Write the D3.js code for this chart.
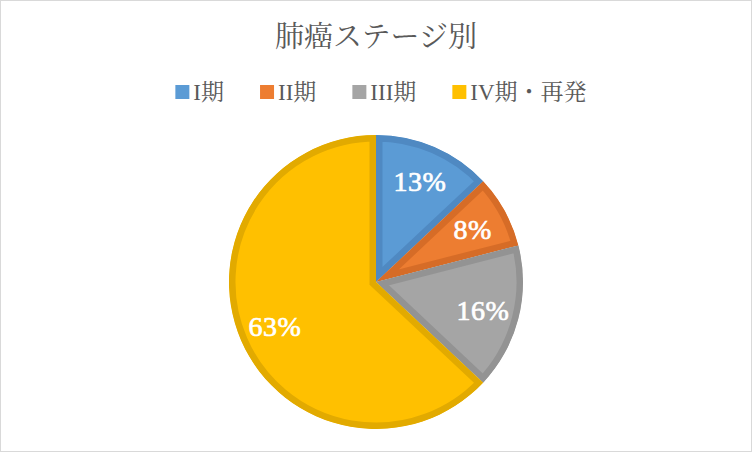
<!DOCTYPE html>
<html>
<head>
<meta charset="utf-8">
<script src="https://cdn.jsdelivr.net/npm/d3@7"></script>
<style>
  body { margin: 0; background: #fff; }
  svg { display: block; }
</style>
</head>
<body>
<div id="chart"></div>
<script>
// data
const categories = ["I期", "II期", "III期", "IV期・再発"];
const values = [13, 8, 16, 63];
const fills = ["#5b9bd5", "#ed7d31", "#a5a5a5", "#ffc000"];
const edges = ["#4f89c2", "#d66c27", "#939393", "#e2aa00"];

const width = 752, height = 452;
const cx = 376, cy = 282, radius = 147;

const svg = d3.select("#chart").append("svg")
    .attr("width", width)
    .attr("height", height);

svg.append("rect")
    .attr("x", 0.5).attr("y", 0.5)
    .attr("width", width - 1).attr("height", height - 1)
    .attr("fill", "#fff")
    .attr("stroke", "#d9d9d9");

// title
svg.append("text")
    .attr("x", cx)
    .attr("y", 47)
    .attr("text-anchor", "middle")
    .attr("fill", "#595959")
    .style("font-family", "'Noto Serif CJK JP', 'Noto Sans CJK JP', sans-serif")
    .style("font-size", "29px")
    .text("肺癌ステージ別");

// legend
const legend = svg.append("g");
const legendFont = "'Liberation Serif', 'Noto Serif CJK JP', 'Noto Sans CJK JP', serif";
const gap = 36;
let lx = 0;
categories.forEach((c, i) => {
    const g = legend.append("g").attr("transform", `translate(${lx},0)`);
    g.append("rect")
        .attr("x", 0).attr("y", -7)
        .attr("width", 14).attr("height", 14)
        .attr("fill", fills[i]);
    const t = g.append("text")
        .attr("x", 18)
        .attr("y", 8)
        .attr("fill", "#595959")
        .style("font-family", legendFont)
        .style("font-size", "23px")
        .text(c);
    lx += 18 + t.node().getComputedTextLength() + gap;
});
const legendW = lx - gap;
legend.attr("transform", `translate(${381 - legendW / 2},92)`);

// pie
const pie = d3.pie().sort(null).startAngle(0).endAngle(2 * Math.PI);
const arc = d3.arc().innerRadius(0).outerRadius(radius);
const labelArc = d3.arc().innerRadius(radius * 0.75).outerRadius(radius * 0.75);
const arcs = pie(values);

const defs = svg.append("defs");
const plot = svg.append("g").attr("transform", `translate(${cx},${cy})`);

arcs.forEach((d, i) => {
    defs.append("clipPath")
        .attr("id", "clip" + i)
        .append("path")
        .attr("d", arc(d));
});

plot.selectAll("path.slice")
    .data(arcs)
    .enter()
    .append("path")
    .classed("slice", true)
    .attr("d", arc)
    .attr("fill", (d, i) => fills[i])
    .attr("stroke", (d, i) => edges[i])
    .attr("stroke-width", 13)
    .attr("stroke-linejoin", "miter")
    .attr("clip-path", (d, i) => `url(#clip${i})`);

plot.selectAll("text.label")
    .data(arcs)
    .enter()
    .append("text")
    .classed("label", true)
    .attr("transform", d => `translate(${labelArc.centroid(d)})`)
    .attr("text-anchor", "middle")
    .attr("dy", "0.36em")
    .attr("fill", "#fff")
    .attr("stroke", "#fff")
    .attr("stroke-width", 0.7)
    .style("font-family", "'Liberation Serif', serif")
    .style("font-size", "28px")
    .style("letter-spacing", "0.5px")
    .text(d => d.data + "%");
</script>
</body>
</html>
